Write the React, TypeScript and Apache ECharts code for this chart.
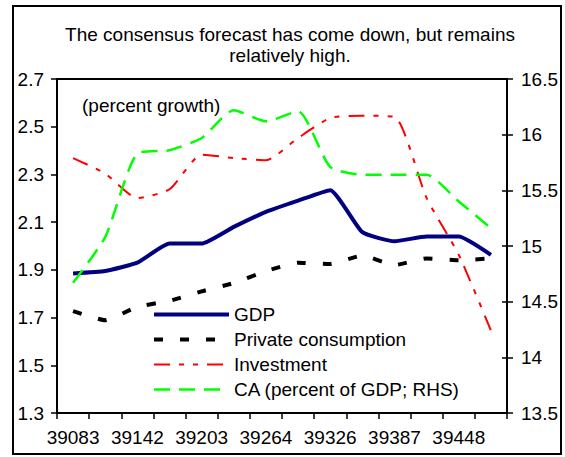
import React, { useEffect, useRef } from "react";
import * as echarts from "echarts";

const categories = ["39083", "39114", "39142", "39173", "39203", "39234", "39264", "39295", "39326", "39356", "39387", "39417", "39448", "39479"];
const gdp = [1.885, 1.895, 1.93, 2.01, 2.01, 2.08, 2.143, 2.19, 2.234, 2.058, 2.02, 2.04, 2.04, 1.963];
const privateConsumption = [1.727, 1.689, 1.745, 1.77, 1.81, 1.845, 1.895, 1.93, 1.925, 1.96, 1.92, 1.948, 1.94, 1.948];
const investment = [15.79, 15.65, 15.43, 15.51, 15.82, 15.79, 15.77, 15.97, 16.15, 16.17, 16.16, 15.43, 14.92, 14.24];
const caBalance = [14.67, 15.08, 15.83, 15.86, 15.97, 16.22, 16.12, 16.21, 15.71, 15.64, 15.64, 15.64, 15.4, 15.16];
const leftTicks = [1.3, 1.5, 1.7, 1.9, 2.1, 2.3, 2.5, 2.7];

const FONT = "'Liberation Sans', Arial, sans-serif";

export default function App() {
  const ref = useRef<HTMLDivElement>(null);
  useEffect(() => {
    if (!ref.current) return;
    const chart = echarts.init(ref.current, null, { renderer: "svg" });
    const axisText = { color: "#000", fontSize: 19, fontFamily: FONT };
    chart.setOption({
      animation: false,
      backgroundColor: "#fff",
      textStyle: { fontFamily: FONT },
      title: {
        text: "The consensus forecast has come down, but remains\nrelatively high.",
        left: 285,
        textAlign: "center",
        top: 19,
        textStyle: { fontSize: 19, fontWeight: "normal", color: "#000", lineHeight: 21, fontFamily: FONT },
      },
      graphic: [
        {
          type: "rect",
          shape: { x: 13, y: 6, width: 548, height: 448 },
          style: { fill: "none", stroke: "#000", lineWidth: 2 },
          silent: true,
        },
        {
          type: "text",
          x: 82,
          y: 105,
          style: { text: "(percent growth)", fontSize: 19, fill: "#000", fontFamily: FONT, textVerticalAlign: "middle" },
        },
      ],
      grid: { left: 57, right: 58, top: 79, bottom: 44, show: true, borderColor: "#000", borderWidth: 2, backgroundColor: "transparent" },
      legend: {
        orient: "vertical",
        left: 152,
        top: 305,
        padding: 0,
        itemWidth: 75,
        itemHeight: 14,
        itemGap: 6,
        itemTextGap: 3,
        itemStyle: { opacity: 0 },
        textStyle: { ...axisText },
        data: [
          { name: "GDP", lineStyle: { width: 4 } },
          { name: "Private consumption", lineStyle: { width: 4 } },
          { name: "Investment", lineStyle: { width: 2 } },
          { name: "CA (percent of GDP; RHS)", lineStyle: { width: 2.5 } },
        ],
      },
      xAxis: {
        type: "category",
        data: categories,
        boundaryGap: true,
        axisLine: { lineStyle: { color: "#000", width: 2 } },
        axisTick: { show: true, interval: 0, length: 6, lineStyle: { color: "#000", width: 1.5 } },
        axisLabel: { ...axisText, interval: 1, margin: 15 },
        splitLine: { show: false },
      },
      yAxis: [
        {
          type: "value",
          min: 1.3,
          max: 2.7,
          position: "left",
          axisLine: { show: true, lineStyle: { color: "#000", width: 2 } },
          axisTick: { show: true, length: 6, customValues: leftTicks, lineStyle: { color: "#000", width: 1.5 } },
          axisLabel: { ...axisText, margin: 13, customValues: leftTicks, formatter: (v: number) => v.toFixed(1) },
          splitLine: { show: false },
        },
        {
          type: "value",
          min: 13.5,
          max: 16.5,
          interval: 0.5,
          position: "right",
          axisLine: { show: true, lineStyle: { color: "#000", width: 2 } },
          axisTick: { show: true, length: 6, lineStyle: { color: "#000", width: 1.5 } },
          axisLabel: { ...axisText, margin: 14 },
          splitLine: { show: false },
        },
        {
          type: "value",
          min: 13.5,
          max: 16.5,
          interval: 0.5,
          position: "right",
          axisLine: { show: false },
          axisTick: { show: true, inside: true, length: 5, lineStyle: { color: "#000", width: 1.5 } },
          axisLabel: { show: false },
          splitLine: { show: false },
        },
      ],
      series: [
        {
          name: "GDP",
          type: "line",
          data: gdp,
          yAxisIndex: 0,
          symbol: "none",
          smooth: 0.15,
          lineStyle: { color: "#000080", width: 4 },
          itemStyle: { color: "#000080" },
        },
        {
          name: "Private consumption",
          type: "line",
          data: privateConsumption,
          yAxisIndex: 0,
          symbol: "none",
          smooth: 0.15,
          lineStyle: { color: "#000", width: 4, type: [9, 17] },
          itemStyle: { color: "#000" },
        },
        {
          name: "Investment",
          type: "line",
          data: investment,
          yAxisIndex: 1,
          symbol: "none",
          smooth: 0.2,
          lineStyle: { color: "#ff0000", width: 2, type: [16, 9, 5, 9, 5, 9] },
          itemStyle: { color: "#ff0000" },
        },
        {
          name: "CA (percent of GDP; RHS)",
          type: "line",
          data: caBalance,
          yAxisIndex: 1,
          symbol: "none",
          smooth: 0.2,
          lineStyle: { color: "#00ff00", width: 2.5, type: [16, 9] },
          itemStyle: { color: "#00ff00" },
        },
      ],
    });
    return () => chart.dispose();
  }, []);
  return <div ref={ref} style={{ position: "fixed", left: 0, top: 0, width: 565, height: 457 }} />;
}
